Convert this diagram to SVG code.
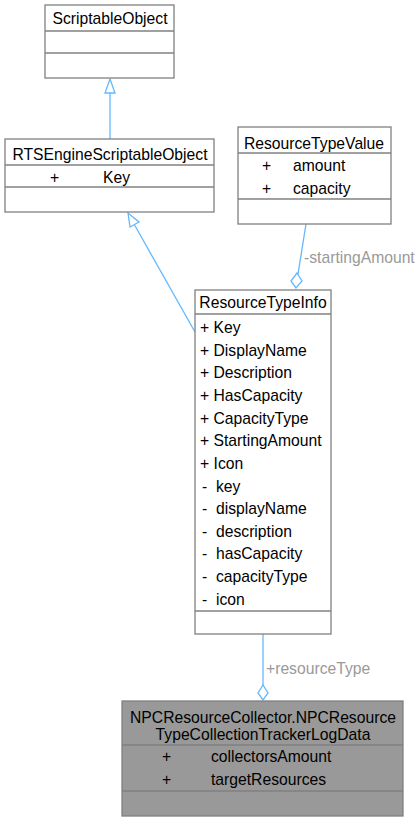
<svg xmlns="http://www.w3.org/2000/svg" width="419" height="821" viewBox="0 0 419 821">
<style>
text{font-family:"Liberation Sans",Arial,sans-serif;font-size:15.7px;fill:#000}
.box{fill:#fff;stroke:#808080;stroke-width:1.3}
.sep{stroke:#808080;stroke-width:1.3}
.hl{fill:#999;stroke:#808080;stroke-width:1.3}
.c{text-anchor:middle}
.edge{fill:none;stroke:#63b8ff;stroke-width:1.3}
.lbl{fill:#9a9a9a}
</style>
<rect width="419" height="821" fill="#fff"/>
<g id="connectors">
<path class="edge" d="M110,139 V93"/>
<polygon class="edge" points="110,79 105,93 115,93" style="fill:#fff"/>
<path class="edge" d="M195,332 L134,224"/>
<polygon class="edge" points="128,213 130,227 139,222" style="fill:#fff"/>
<path class="edge" d="M306,224 L298,274"/>
<polygon class="edge" points="296,288 291,281 297,273 302,281" style="fill:#fff"/>
<text class="lbl" x="304" y="263">-startingAmount</text>
<path class="edge" d="M263,634 V686"/>
<polygon class="edge" points="263,700 258,693 263,685 268,693" style="fill:#fff"/>
<text class="lbl" x="266" y="674">+resourceType</text>
</g>
<g id="ScriptableObject">
<rect class="box" x="45" y="5" width="129" height="73"/>
<line class="sep" x1="45" y1="31" x2="174" y2="31"/>
<line class="sep" x1="45" y1="53" x2="174" y2="53"/>
<text class="c" x="110" y="24">ScriptableObject</text>
</g>
<g id="RTSEngineScriptableObject">
<rect class="box" x="5" y="139" width="209" height="73"/>
<line class="sep" x1="5" y1="165" x2="214" y2="165"/>
<line class="sep" x1="5" y1="187" x2="214" y2="187"/>
<text class="c" x="110" y="160">RTSEngineScriptableObject</text>
<text x="50" y="183">+</text>
<text x="103" y="183">Key</text>
</g>
<g id="ResourceTypeValue">
<rect class="box" x="238" y="127" width="153" height="97"/>
<line class="sep" x1="238" y1="153" x2="391" y2="153"/>
<line class="sep" x1="238" y1="199" x2="391" y2="199"/>
<text class="c" x="314" y="149">ResourceTypeValue</text>
<text x="262" y="171">+</text>
<text x="293" y="171">amount</text>
<text x="262" y="194">+</text>
<text x="293" y="194">capacity</text>
</g>
<g id="ResourceTypeInfo">
<rect class="box" x="195" y="290" width="136" height="344"/>
<line class="sep" x1="195" y1="314" x2="331" y2="314"/>
<line class="sep" x1="195" y1="611" x2="331" y2="611"/>
<text class="c" x="263" y="308">ResourceTypeInfo</text>
<text x="200" y="333">+ Key</text>
<text x="200" y="356">+ DisplayName</text>
<text x="200" y="378">+ Description</text>
<text x="200" y="401">+ HasCapacity</text>
<text x="200" y="424">+ CapacityType</text>
<text x="200" y="446">+ StartingAmount</text>
<text x="200" y="469">+ Icon</text>
<text x="202" y="492">-</text><text x="216" y="492">key</text>
<text x="202" y="514">-</text><text x="216" y="514">displayName</text>
<text x="202" y="537">-</text><text x="216" y="537">description</text>
<text x="202" y="559">-</text><text x="216" y="559">hasCapacity</text>
<text x="202" y="582">-</text><text x="216" y="582">capacityType</text>
<text x="202" y="605">-</text><text x="216" y="605">icon</text>
</g>
<g id="NPCResourceTypeCollectionTrackerLogData">
<rect class="hl" x="122" y="701" width="281" height="115"/>
<line class="sep" x1="122" y1="745" x2="403" y2="745"/>
<line class="sep" x1="122" y1="791" x2="403" y2="791"/>
<text class="c" x="263" y="723">NPCResourceCollector.NPCResource</text>
<text class="c" x="263" y="740">TypeCollectionTrackerLogData</text>
<text x="162" y="762">+</text>
<text x="211" y="762">collectorsAmount</text>
<text x="162" y="785">+</text>
<text x="211" y="785">targetResources</text>
</g>
</svg>
